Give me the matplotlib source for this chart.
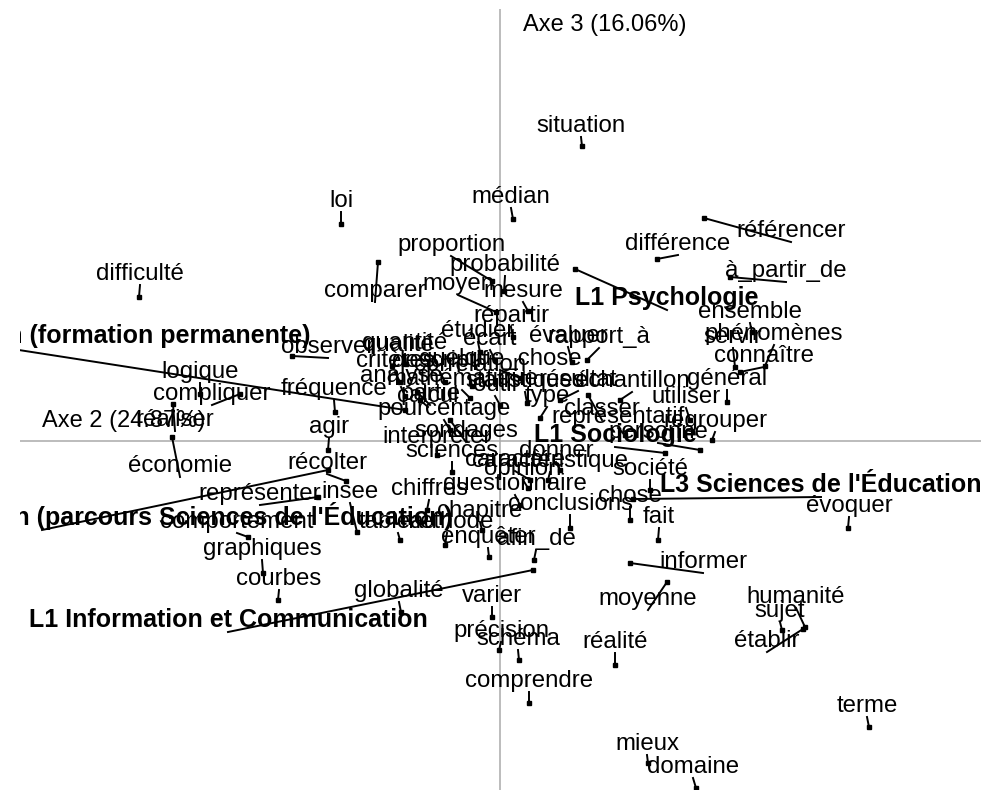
import matplotlib
matplotlib.use("Agg")
import matplotlib.pyplot as plt

# AFC map, axes 2 and 3 : word, point coordinates, label anchor (bottom centre of the text)
words = ["situation", "médian", "loi", "référencer", "différence", "proportion", "à_partir_de",
         "probabilité", "difficulté", "comparer", "moyen", "mesure", "L1 Psychologie", "ensemble",
         "phénomènes", "servir", "connaître", "général", "utiliser", "regrouper", "personne",
         "L1 Sociologie", "échantillon", "résultat", "classer", "représentatif", "rapport_à",
         "évaluer", "répartir", "étudier", "écart", "quelque_chose", "corrélation", "observer",
         "quantité", "qualité", "critères", "analyse", "descriptif", "mathématique", "calcul",
         "partie", "pourcentage", "outil", "type", "fréquence", "logique", "compliquer",
         "réaliser", "économie", "agir", "récolter", "représenter", "insee", "comportement",
         "tableau", "méthode", "chiffres", "questionnaire", "chapitre", "enquêter", "afin_de",
         "L1 Information et Communication", "graphiques", "courbes", "globalité", "varier",
         "précision", "schéma", "comprendre", "réalité", "informer", "moyenne", "mieux",
         "domaine", "L3 Sciences de l'Éducation", "évoquer", "humanité", "sujet", "établir",
         "terme", "société", "chose", "fait", "conclusions", "donner", "opinion",
         "caractéristique", "caractère", "sondages", "interpréter", "sciences", "statistiques",
         "L3 Sciences de l'Éducation (formation permanente)",
         "L2 Information et Communication (parcours Sciences de l'Éducation)"]

x = [0.82, 0.13, -1.59, 2.04, 1.57, -0.08, 2.30,
     0.04, -3.61, -1.22, -0.04, 0.28, 0.75, 2.52,
     2.65, 2.35, 2.40, 2.27, 1.90, 2.12, 2.00,
     1.65, 1.20, 0.60, 0.88, 1.25, 0.87,
     0.72, 0.13, -0.20, -0.05, 0.20, -0.28, -2.08,
     -0.94, -1.08, -1.00, -0.95, -0.55, -0.30, -0.80,
     -0.83, -0.50, 0.00, 0.40, -1.65, -3.00, -2.60,
     -3.27, -3.28, -1.72, -1.54, -1.82, -1.43, -2.52,
     -1.00, -0.55, -0.73, 0.20, -0.18, -0.11, 0.34,
     0.33, -2.37, -2.22, -0.99, -0.08,
     -0.01, 0.19, 0.29, 1.15, 1.30, 1.67, 1.48,
     1.96, 1.33, 3.48, 3.05, 2.82, 3.03,
     3.69, 1.50, 1.30, 1.58, 0.70, 0.60, 0.28,
     0.48, 0.30, -0.50, -0.63, -0.48, 0.27,
     -0.95, -1.72]

y = [2.95, 2.22, 2.17, 2.23, 1.82, 1.60, 1.64,
     1.50, 1.44, 1.79, 1.29, 1.30, 1.72, 1.09,
     0.75, 0.74, 0.69, 0.39, 0.21, 0.01, -0.09,
     -0.12, 0.41, 0.41, 0.46, 0.06, 0.81,
     0.79, 1.04, 0.89, 0.81, 0.63, 0.55, 0.85,
     0.77, 0.75, 0.59, 0.45, 0.59, 0.43, 0.41,
     0.49, 0.11, 0.36, 0.23, 0.29, 0.47, 0.47,
     0.37, 0.04, -0.09, -0.40, -0.56, -0.91, -0.96,
     -0.99, -1.04, -0.69, -0.64, -0.89, -1.16, -1.19,
     -1.29, -1.32, -1.59, -1.71, -1.76,
     -2.09, -2.19, -2.62, -2.24, -1.22, -1.41, -3.22,
     -3.47, -0.58, -0.87, -1.86, -1.89, -1.88,
     -2.86, -0.49, -0.79, -0.99, -0.87, -0.29, -0.47,
     -0.39, -0.39, 0.21, -0.14, -0.31, 0.38,
     0.31, -0.29]

lab_x = [0.81, 0.11, -1.59, 2.91, 1.78, -0.49, 2.86,
         0.05, -3.60, -1.25, -0.42, 0.23, 1.67, 2.50,
         2.74, 2.33, 2.64, 2.27, 1.86, 2.15, 1.58,
         1.15, 1.32, 0.78, 1.02, 1.18, 0.99,
         0.68, 0.11, -0.22, -0.10, 0.00, -0.30, -1.72,
         -0.95, -1.02, -1.05, -0.99, -0.60, -0.38, -0.72,
         -0.70, -0.56, -0.05, 0.47, -1.66, -3.00, -2.88,
         -3.25, -3.20, -1.71, -1.73, -2.40, -1.50, -2.63,
         -1.02, -0.53, -0.71, 0.15, -0.20, -0.12, 0.36,
         -2.72, -2.38, -2.21, -1.01, -0.08,
         0.01, 0.18, 0.29, 1.15, 2.03, 1.48, 1.47,
         1.93, 3.21, 3.49, 2.96, 2.80, 2.67,
         3.67, 1.50, 1.30, 1.59, 0.70, 0.56, 0.23,
         0.50, 0.15, -0.34, -0.63, -0.48, 0.25,
         -4.94, -4.58]

lab_y = [3.04, 2.33, 2.29, 1.99, 1.86, 1.85, 1.59,
         1.65, 1.56, 1.39, 1.46, 1.39, 1.31, 1.18,
         0.96, 0.93, 0.74, 0.51, 0.33, 0.09, -0.02,
         -0.06, 0.49, 0.50, 0.21, 0.13, 0.93,
         0.94, 1.14, 0.99, 0.91, 0.71, 0.65, 0.83,
         0.87, 0.85, 0.69, 0.54, 0.69, 0.51, 0.34,
         0.36, 0.21, 0.45, 0.34, 0.41, 0.58, 0.36,
         0.10, -0.36, 0.03, -0.33, -0.64, -0.62, -0.92,
         -0.92, -0.92, -0.59, -0.54, -0.81, -1.07, -1.09,
         -1.91, -1.19, -1.49, -1.61, -1.66,
         -2.01, -2.09, -2.51, -2.12, -1.32, -1.69, -3.14,
         -3.37, -0.56, -0.76, -1.67, -1.81, -2.11,
         -2.76, -0.39, -0.66, -0.87, -0.74, -0.21, -0.39,
         -0.31, -0.30, -0.01, -0.07, -0.21, 0.49,
         0.93, -0.89]

bold = ["L1 Psychologie", "L1 Sociologie", "L1 Information et Communication",
        "L3 Sciences de l'Éducation", "L3 Sciences de l'Éducation (formation permanente)",
        "L2 Information et Communication (parcours Sciences de l'Éducation)"]

plt.rcParams['font.family'] = ['Liberation Sans', 'DejaVu Sans']

fig = plt.figure(figsize=(9.88, 7.90), dpi=100)
ax = fig.add_axes([20 / 988, 0, 961 / 988, 781 / 790])
ax.set_xlim(-4.80, 4.81)
ax.set_ylim(-3.49, 4.32)
ax.axis("off")

ax.axhline(0, color="#aaaaaa", lw=1.1, zorder=1)
ax.axvline(0, color="#aaaaaa", lw=1.1, zorder=1)
ax.text(0.23, 4.16, "Axe 3 (16.06%)", fontsize=17, ha="left", va="center")
ax.text(-4.58, 0.20, "Axe 2 (24.87%)", fontsize=17, ha="left", va="center")

for w, px, py, lx, ly in zip(words, x, y, lab_x, lab_y):
    ax.plot([px, lx], [py, ly], color="black", lw=1.4, zorder=2)
    ax.plot(px, py, marker="s", ms=3, color="black", zorder=3)
    if w in bold:
        ax.text(lx, ly, w, fontsize=18, fontweight="bold", ha="center", va="bottom",
                zorder=4, clip_on=True)
    else:
        ax.text(lx, ly, w, fontsize=17.3, ha="center", va="bottom", zorder=4, clip_on=True)

fig.savefig("out.png", dpi=100)
